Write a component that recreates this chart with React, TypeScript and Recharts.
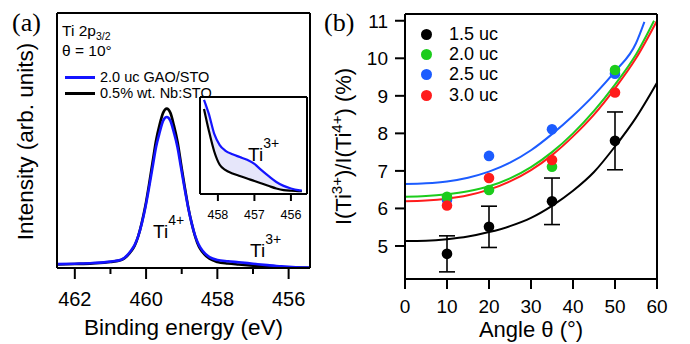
import React from 'react';
import { ComposedChart, Line, Area, Scatter, ErrorBar, XAxis, YAxis, Legend } from 'recharts';

const SANS = '"Liberation Sans", Arial, Helvetica, sans-serif';
const SERIF = '"Liberation Serif", "Times New Roman", serif';

// (a) Ti 2p3/2 spectra (normalized, arb. units)
const bindingEnergy = [
  462.5, 462.0, 461.5, 461.0, 460.7, 460.42, 460.32, 460.22, 460.12, 460.02, 459.92, 459.82,
  459.72, 459.62, 459.52, 459.42, 459.32, 459.22, 459.12, 459.02, 458.92, 458.82, 458.72,
  458.62, 458.52, 458.42, 458.22, 458.0, 457.7, 457.4, 457.0, 456.6, 456.2, 455.8, 455.4,
];
const gaoStoIntensity = [
  0.024, 0.027, 0.031, 0.04, 0.052, 0.11, 0.145, 0.2, 0.28, 0.38, 0.5, 0.63,
  0.76, 0.85, 0.925, 0.947, 0.925, 0.85, 0.76, 0.63, 0.5, 0.38, 0.28,
  0.2, 0.145, 0.11, 0.068, 0.05, 0.042, 0.036, 0.027, 0.018, 0.01, 0.005, 0.003,
];
const nbStoIntensity = [
  0.022, 0.025, 0.029, 0.038, 0.05, 0.105, 0.14, 0.2, 0.285, 0.39, 0.52, 0.66,
  0.8, 0.9, 0.975, 1.0, 0.975, 0.895, 0.795, 0.655, 0.515, 0.385, 0.28,
  0.195, 0.135, 0.1, 0.058, 0.038, 0.028, 0.022, 0.015, 0.009, 0.005, 0.003, 0.002,
];
const spectrumTicks = [462, 461, 460, 459, 458, 457, 456];
const spectrumMajor = [462, 460, 458, 456];

// (a) inset: Ti3+ shoulder
const insetEnergy = [458.38, 458.25, 458.1, 457.95, 457.8, 457.6, 457.4, 457.2, 457.0, 456.8, 456.6, 456.4, 456.2, 456.0, 455.8, 455.7];
const insetGaoSto = [99, 84, 62, 50, 44, 40, 37, 34, 29.5, 22.5, 16, 10, 5.8, 3, 1.2, 0.8];
const insetNbSto = [89, 66, 43, 28.6, 23, 19.3, 16.5, 13.8, 11, 8.4, 5.6, 3, 1.2, 0.5, 0.2, 0];
const insetTicks = [458, 457, 456];

// (b) Ti3+/Ti4+ ratio vs angle
const angles = [10, 20, 35, 50];
const ratio15 = [4.79, 5.51, 6.19, 7.8];
const err15 = [0.48, 0.55, 0.62, 0.77];
const ratio20 = [6.31, 6.49, 7.11, 9.69];
const ratio25 = [6.23, 7.4, 8.11, 9.59];
const ratio30 = [6.08, 6.81, 7.29, 9.09];

const fitAngles = [0, 5, 10, 15, 20, 25, 30, 35, 40, 45, 50, 55, 60];
const fitAngles20 = [0, 5, 10, 15, 20, 25, 30, 35, 40, 45, 50, 55, 59.3];
const fitAngles25 = [0, 5, 10, 15, 20, 25, 30, 35, 40, 45, 50, 55, 57];
const fit15 = [5.13, 5.14, 5.18, 5.25, 5.37, 5.53, 5.75, 6.07, 6.47, 6.97, 7.65, 8.42, 9.35];
const fit20 = [6.31, 6.33, 6.38, 6.46, 6.59, 6.8, 7.1, 7.5, 8.0, 8.6, 9.3, 10.1, 11.0];
const fit25 = [6.65, 6.67, 6.72, 6.82, 6.98, 7.22, 7.55, 7.98, 8.47, 9.02, 9.65, 10.4, 10.97];
const fit30 = [6.19, 6.21, 6.26, 6.35, 6.5, 6.72, 7.02, 7.42, 7.92, 8.5, 9.2, 10.0, 11.0];
const ratioTicks = [5, 6, 7, 8, 9, 10, 11];
const angleTicks = [0, 10, 20, 30, 40, 50, 60];

const BLACK = '#000000';
const GREEN = '#1ccc1c';
const BLUE = '#1c5cff';
const RED = '#ff1c1c';
const SPEC_BLUE = '#1414ff';

const spectrumRows = bindingEnergy.map((e, i) => ({ e, gao: gaoStoIntensity[i], nb: nbStoIntensity[i] }));
const insetRows = insetEnergy.map((e, i) => ({
  e,
  gao: insetGaoSto[i],
  nb: insetNbSto[i],
  band: [insetNbSto[i], insetGaoSto[i]],
}));
const points = (ys: number[], errs?: number[]) =>
  angles.map((x, i) => ({ x, y: ys[i], err: errs ? errs[i] : 0 }));
const fitRows = (xs: number[], ys: number[]) => xs.map((x, i) => ({ x, y: ys[i] }));

const SpectrumTick = ({ x, y, payload }: any) => {
  const major = spectrumMajor.includes(payload.value);
  return (
    <g>
      <line x1={x} x2={x} y1={y} y2={y + (major ? 11 : 6)} stroke="#000" strokeWidth={2} />
      {major && (
        <text x={x} y={y + 38} textAnchor="middle" fontSize={20} fontFamily={SANS} fill="#000">
          {payload.value}
        </text>
      )}
    </g>
  );
};

const InsetTick = ({ x, y, payload }: any) => (
  <g>
    <line x1={x} x2={x} y1={y} y2={y + 7} stroke="#000" strokeWidth={2} />
    <text x={x} y={y + 25} textAnchor="middle" fontSize={12.5} fontFamily={SANS} fill="#000">
      {payload.value}
    </text>
  </g>
);

const IntensityLabel = ({ viewBox }: any) => (
  <text
    transform={`translate(${viewBox.x + viewBox.width - 24},${viewBox.y + viewBox.height / 2 + 1}) rotate(-90)`}
    textAnchor="middle"
    fontSize={22.5}
    fontFamily={SANS}
    fill="#000"
  >
    Intensity (arb. units)
  </text>
);

const EnergyLabel = ({ viewBox }: any) => (
  <text x={viewBox.x + viewBox.width / 2} y={viewBox.y + 67} textAnchor="middle" fontSize={22.5} fontFamily={SANS} fill="#000">
    Binding energy (eV)
  </text>
);

const RatioLabel = ({ viewBox }: any) => (
  <text
    transform={`translate(${viewBox.x - 9},${viewBox.y + viewBox.height / 2}) rotate(-90)`}
    textAnchor="middle"
    fontSize={22}
    fontFamily={SANS}
    fill="#000"
  >
    I(Ti
    <tspan dy={-9} fontSize={15}>3+</tspan>
    <tspan dy={9}>)/I(Ti</tspan>
    <tspan dy={-9} fontSize={15}>4+</tspan>
    <tspan dy={9}>) (%)</tspan>
  </text>
);

const AngleLabel = ({ viewBox }: any) => (
  <text x={viewBox.x + viewBox.width / 2} y={viewBox.y + 58} textAnchor="middle" fontSize={22} fontFamily={SANS} fill="#000">
    Angle θ (°)
  </text>
);

const specOrder = ['2.0 uc GAO/STO', '0.5% wt. Nb:STO'];

const SpectrumLegend = ({ payload }: any) => {
  const items = [...(payload || [])]
    .filter((p: any) => specOrder.includes(p.value))
    .sort((a: any, b: any) => specOrder.indexOf(a.value) - specOrder.indexOf(b.value));
  const row = (top: number, h: number): React.CSSProperties => ({
    position: 'absolute', left: 0, top, height: h, lineHeight: `${h}px`, whiteSpace: 'nowrap',
  });
  return (
    <div style={{ position: 'relative', fontFamily: SANS, fontSize: 15.5, color: '#000', width: 200, height: 100 }}>
      <div style={row(22, 18)}>
        Ti 2p<span style={{ fontSize: 10.5, verticalAlign: 'sub' }}>3/2</span>
      </div>
      <div style={row(42, 18)}>θ = 10°</div>
      {items.map((p: any, i: number) => (
        <div key={p.value} style={{ ...row(69 + i * 16, 16), display: 'flex', alignItems: 'center', fontSize: 14.5 }}>
          <span style={{ display: 'inline-block', width: 30, height: 3, background: p.color, marginLeft: 3, marginRight: 5 }} />
          <span>{p.value}</span>
        </div>
      ))}
    </div>
  );
};

const RatioLegend = ({ payload }: any) => (
  <div style={{ fontFamily: SANS, fontSize: 18, color: '#000' }}>
    {(payload || [])
      .filter((p: any) => p.type !== 'none' && p.value !== 'y')
      .map((p: any) => (
        <div key={p.value} style={{ display: 'flex', alignItems: 'center', height: 20.3, whiteSpace: 'nowrap' }}>
          <span style={{ display: 'inline-block', width: 11, height: 11, borderRadius: '50%', background: p.color, marginRight: 17.5 }} />
          <span>{p.value}</span>
        </div>
      ))}
  </div>
);

const dot = (color: string) => (props: any) =>
  props.cx == null ? <g /> : <circle cx={props.cx} cy={props.cy} r={5.3} fill={color} />;

const frameAxis = { stroke: '#000', strokeWidth: 2 };

export default function App() {
  return (
    <div style={{ position: 'absolute', left: 0, top: 0, width: 690, height: 344, background: '#fff', overflow: 'hidden' }}>
      {/* (a) spectra */}
      <div style={{ position: 'absolute', left: 0, top: 0 }}>
        <ComposedChart width={345} height={344} data={spectrumRows} margin={{ top: 12, right: 34, bottom: 26, left: 56 }}>
          <XAxis
            dataKey="e"
            type="number"
            domain={[455.4, 462.5]}
            reversed
            allowDataOverflow
            ticks={spectrumTicks}
            interval={0}
            tickSize={0}
            tickMargin={0}
            tick={<SpectrumTick />}
            axisLine={frameAxis}
            height={50}
            label={<EnergyLabel />}
          />
          <XAxis xAxisId="top" orientation="top" type="number" domain={[455.4, 462.5]} reversed tick={false} tickLine={false} axisLine={frameAxis} height={1} />
          <YAxis type="number" domain={[0, 1.6]} allowDataOverflow tick={false} tickLine={false} axisLine={frameAxis} width={1} label={<IntensityLabel />} />
          <YAxis yAxisId="right" orientation="right" type="number" domain={[0, 1]} tick={false} tickLine={false} axisLine={frameAxis} width={1} />
          <Legend
            layout="vertical"
            align="center"
            verticalAlign="middle"
            wrapperStyle={{ left: 62, top: 0, width: 200 }}
            content={<SpectrumLegend />}
          />
          <Line dataKey="nb" name="0.5% wt. Nb:STO" type="monotone" stroke={BLACK} strokeWidth={2.6} dot={false} isAnimationActive={false} />
          <Line dataKey="gao" name="2.0 uc GAO/STO" type="monotone" stroke={SPEC_BLUE} strokeWidth={2.6} dot={false} isAnimationActive={false} />
        </ComposedChart>
      </div>

      {/* (a) inset */}
      <div style={{ position: 'absolute', left: 190, top: 85 }}>
        <ComposedChart width={130} height={145} data={insetRows} margin={{ top: 11, right: 12, bottom: 6, left: 9 }}>
          <XAxis
            dataKey="e"
            type="number"
            domain={[455.56, 458.49]}
            reversed
            allowDataOverflow
            ticks={insetTicks}
            interval={0}
            tickSize={0}
            tickMargin={0}
            tick={<InsetTick />}
            axisLine={frameAxis}
            height={30}
          />
          <XAxis xAxisId="top" orientation="top" type="number" domain={[455.56, 458.49]} reversed tick={false} tickLine={false} axisLine={frameAxis} height={1} />
          <YAxis type="number" domain={[-3, 102]} allowDataOverflow tick={false} tickLine={false} axisLine={frameAxis} width={1} />
          <YAxis yAxisId="right" orientation="right" type="number" domain={[0, 1]} tick={false} tickLine={false} axisLine={frameAxis} width={1} />
          <Area dataKey="band" type="monotone" fill="#e6e6fa" fillOpacity={1} stroke="none" isAnimationActive={false} />
          <Line dataKey="nb" type="monotone" stroke={BLACK} strokeWidth={2.2} dot={false} isAnimationActive={false} />
          <Line dataKey="gao" type="monotone" stroke={SPEC_BLUE} strokeWidth={2.2} dot={false} isAnimationActive={false} />
        </ComposedChart>
      </div>

      {/* (b) ratio vs angle */}
      <div style={{ position: 'absolute', left: 318, top: 0 }}>
        <ComposedChart width={372} height={344} margin={{ top: 13, right: 32, bottom: 20, left: 42 }}>
          <XAxis
            dataKey="x"
            type="number"
            domain={[0, 60]}
            allowDataOverflow
            ticks={angleTicks}
            interval={0}
            tickSize={10}
            tickMargin={11}
            tick={{ fill: '#000', fontSize: 19, fontFamily: SANS }}
            tickLine={frameAxis}
            axisLine={frameAxis}
            height={45}
            label={<AngleLabel />}
          />
          <XAxis xAxisId="top" orientation="top" type="number" domain={[0, 60]} tick={false} tickLine={false} axisLine={frameAxis} height={1} />
          <YAxis
            dataKey="y"
            type="number"
            domain={[4.12, 11.18]}
            allowDataOverflow
            ticks={ratioTicks}
            interval={0}
            tickSize={10}
            tickMargin={7}
            tick={{ fill: '#000', fontSize: 19, fontFamily: SANS }}
            tickLine={frameAxis}
            axisLine={frameAxis}
            width={45}
            label={<RatioLabel />}
          />
          <YAxis yAxisId="right" orientation="right" type="number" domain={[0, 1]} tick={false} tickLine={false} axisLine={frameAxis} width={1} />
          <Legend
            layout="vertical"
            align="center"
            verticalAlign="middle"
            wrapperStyle={{ left: 102.5, top: 24, width: 120 }}
            content={<RatioLegend />}
          />
          <Line data={fitRows(fitAngles, fit15)} dataKey="y" type="monotone" stroke={BLACK} strokeWidth={2} dot={false} legendType="none" isAnimationActive={false} />
          <Line data={fitRows(fitAngles20, fit20)} dataKey="y" type="monotone" stroke={GREEN} strokeWidth={2} dot={false} legendType="none" isAnimationActive={false} />
          <Line data={fitRows(fitAngles25, fit25)} dataKey="y" type="monotone" stroke={BLUE} strokeWidth={2} dot={false} legendType="none" isAnimationActive={false} />
          <Line data={fitRows(fitAngles, fit30)} dataKey="y" type="monotone" stroke={RED} strokeWidth={2} dot={false} legendType="none" isAnimationActive={false} />
          <Scatter name="1.5 uc" data={points(ratio15, err15)} dataKey="y" fill={BLACK} shape={dot(BLACK)} isAnimationActive={false}>
            <ErrorBar dataKey="err" direction="y" width={8} stroke="#000" strokeWidth={1.6} />
          </Scatter>
          <Scatter name="2.5 uc" data={points(ratio25)} dataKey="y" fill={BLUE} shape={dot(BLUE)} isAnimationActive={false} />
          <Scatter name="2.0 uc" data={points(ratio20)} dataKey="y" fill={GREEN} shape={dot(GREEN)} isAnimationActive={false} />
          <Scatter name="3.0 uc" data={points(ratio30)} dataKey="y" fill={RED} shape={dot(RED)} isAnimationActive={false} />
        </ComposedChart>
      </div>

      {/* panel letters and peak annotations */}
      <svg width={690} height={344} style={{ position: 'absolute', left: 0, top: 0, pointerEvents: 'none' }}>
        <text x={12} y={31} fontSize={26} fontFamily={SERIF} fill="#000">(a)</text>
        <text x={324} y={31} fontSize={26} fontFamily={SERIF} fill="#000">(b)</text>
        <g fontFamily={SANS} fill="#000">
          <text x={153} y={238} fontSize={19}>Ti<tspan dy={-13} fontSize={14}>4+</tspan></text>
          <text x={250} y={257} fontSize={19}>Ti<tspan dy={-13} fontSize={14}>3+</tspan></text>
          <text x={248} y={161} fontSize={19}>Ti<tspan dy={-13} fontSize={14}>3+</tspan></text>
        </g>
      </svg>
    </div>
  );
}
